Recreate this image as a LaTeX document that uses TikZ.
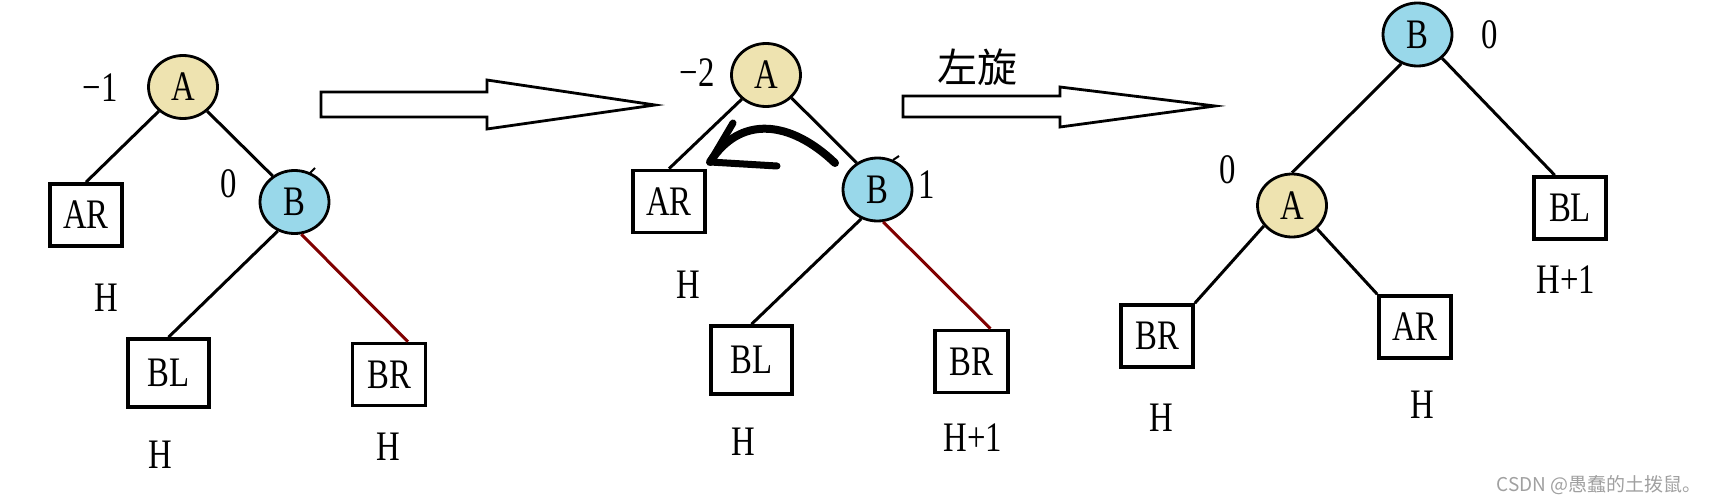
\documentclass[tikz,border=0pt]{standalone}
\usepackage{fontspec}
\setmainfont{Liberation Serif}[FakeStretch=0.78]
\newfontfamily\cjk{Noto Sans CJK SC}
\usetikzlibrary{shapes.geometric}
\definecolor{fillA}{RGB}{238,227,176}
\definecolor{fillB}{RGB}{153,216,234}
\definecolor{heavyedge}{RGB}{128,0,0}
\definecolor{markgray}{RGB}{160,160,160}
\tikzset{
	astyle/.style={ellipse,draw=black,line width=1.4pt,fill=fillA,minimum width=34.5pt,minimum height=31.5pt,inner sep=0pt},
	bstyle/.style={ellipse,draw=black,line width=1.4pt,fill=fillB,minimum width=34.5pt,minimum height=31.5pt,inner sep=0pt},
	boxstyle/.style={rectangle,draw=black,line width=1.8pt,fill=white,minimum width=36pt,minimum height=31pt,inner sep=0pt},
	wideboxstyle/.style={boxstyle,minimum width=40.5pt,minimum height=34pt},
	labelstyle/.style={inner sep=0pt},
	edgestyle/.style={line width=1.5pt},
	arrowstyle/.style={draw=black,line width=1.4pt,fill=white}
}

\begin{document}
\begin{tikzpicture}[x=0.5pt,y=-0.5pt]
		\fontsize{21pt}{25pt}\selectfont
		\useasboundingbox (0,0) rectangle (1713,503);
		% before
		\node[astyle] (a1) at (183,87) {A};
		\node[bstyle] (b1) at (294.5,202) {B};
		\node[boxstyle] (ar1) at (86,215) {AR};
		\node[wideboxstyle] (bl1) at (168.5,373) {BL};
		\node[boxstyle,minimum width=36.5pt] (br1) at (389,374.5) {BR};
		\node[labelstyle] (fa1) at (100,88) {−1};
		\node[labelstyle] (fb1) at (229,184) {0};
		\node[labelstyle] (har1) at (106,298) {H};
		\node[labelstyle] (hbl1) at (160,455) {H};
		\node[labelstyle] (hbr1) at (388,447) {H};
		\draw[edgestyle] (a1.225)--(ar1.north);
		\draw[edgestyle] (a1.315)--(b1.130);
		\draw[edgestyle] (b1.240)--(bl1.north);
		\draw[edgestyle,heavyedge] (b1.282)--(br1.60);
		\draw[line width=1pt] (315,168)--(310,173);
		% arrow 1
		\draw[arrowstyle] (321,92)--(487,92)--(487,80)--(655,105)--(487,129)--(487,117)--(321,117)--cycle;
		% after insert
		\node[astyle] (a2) at (766,75) {A};
		\node[bstyle] (b2) at (877.5,189.5) {B};
		\node[boxstyle] (ar2) at (669,201.5) {AR};
		\node[wideboxstyle] (bl2) at (751.5,360) {BL};
		\node[boxstyle,minimum width=36.5pt] (br2) at (971.5,361.5) {BR};
		\node[labelstyle] (fa2) at (697,73) {−2};
		\node[labelstyle] (fb2) at (927,185) {1};
		\node[labelstyle] (har2) at (688,285) {H};
		\node[labelstyle] (hbl2) at (743,442) {H};
		\node[labelstyle] (hbr2) at (973,438) {H+1};
		\draw[edgestyle] (a2.225)--(ar2.north);
		\draw[edgestyle] (a2.318)--(b2.128);
		\draw[edgestyle] (b2.241)--(bl2.north);
		\draw[edgestyle,heavyedge] (b2.280)--(br2.60);
		\draw[line width=1pt] (899,156)--(893,160);
		% rotation hint
		\coordinate (rs) at (835,163);
		\coordinate (rt) at (710,162);
		\coordinate (ru) at (733,123);
		\coordinate (rl) at (777,166);
		\draw[line width=4pt,line cap=round] (rs) .. controls (790,120) and (740,115) .. (rt);
		\draw[line width=3.5pt,line cap=round,line join=round] (ru)--(rt)--(rl);
		% arrow 2
		\node[labelstyle,font=\cjk\fontsize{20pt}{24pt}\selectfont] (rot) at (977,67) {左旋};
		\draw[arrowstyle] (903,96)--(1060,96)--(1060,87)--(1215,106)--(1060,127)--(1060,117)--(903,117)--cycle;
		% after rotation
		\node[bstyle] (b3) at (1417.5,34.5) {B};
		\node[astyle] (a3) at (1292,205.5) {A};
		\node[boxstyle] (bl3) at (1570,208) {BL};
		\node[boxstyle] (br3) at (1157,336) {BR};
		\node[boxstyle] (ar3) at (1415,327) {AR};
		\node[labelstyle] (fb3) at (1490,35) {0};
		\node[labelstyle] (fa3) at (1228,170) {0};
		\node[labelstyle] (hbl3) at (1566,280) {H+1};
		\node[labelstyle] (hbr3) at (1161,418) {H};
		\node[labelstyle] (har3) at (1422,405) {H};
		\draw[edgestyle] (b3.241)--(a3.north);
		\draw[edgestyle] (b3.316)--(bl3.115);
		\draw[edgestyle] (a3.216)--(br3.north east);
		\draw[edgestyle] (a3.317)--(ar3.north west);
		\node[labelstyle,font=\cjk\fontsize{9.5pt}{11pt}\selectfont,text=markgray] (mark) at (1599,485) {CSDN @愚蠢的土拨鼠。};
\end{tikzpicture}
\end{document}
